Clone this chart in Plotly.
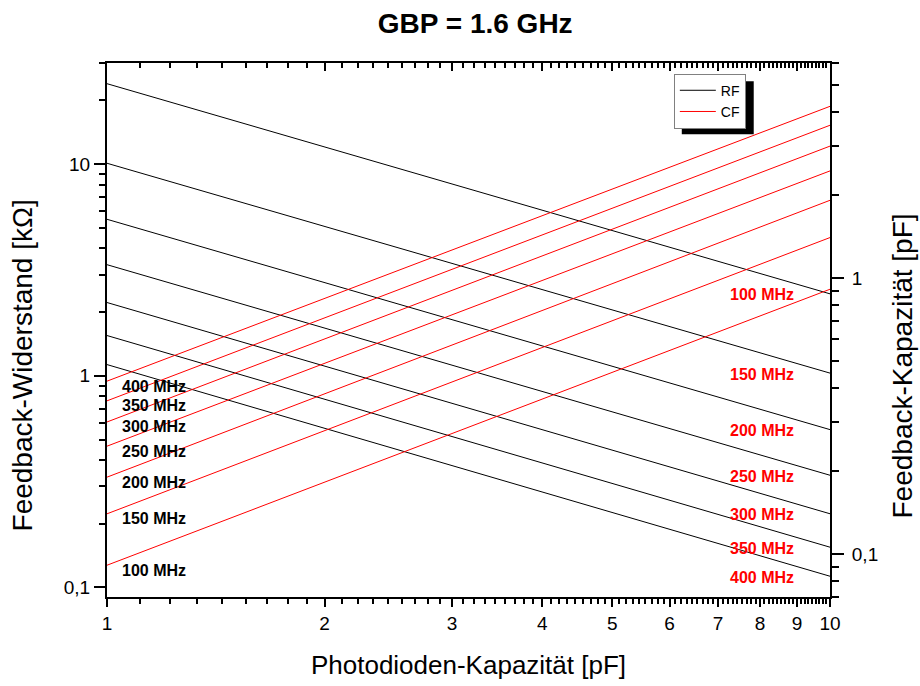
import math
import plotly.graph_objects as go

# ---------------- data ----------------
freq_labels = ["100 MHz", "150 MHz", "200 MHz", "250 MHz", "300 MHz", "350 MHz", "400 MHz"]
cd_pf = [1, 10]                                   # photodiode capacitance endpoints [pF]
rf_at_cd1 = [24.0, 10.1, 5.49, 3.35, 2.22, 1.55, 1.13]       # RF [kOhm] at 1 pF
rf_at_cd10 = [2.44, 1.03, 0.557, 0.339, 0.223, 0.155, 0.113]  # RF [kOhm] at 10 pF
cf_at_cd1 = [0.0912, 0.140, 0.190, 0.246, 0.301, 0.359, 0.423]  # CF [pF] at 1 pF
cf_at_cd10 = [0.910, 1.40, 1.91, 2.44, 3.00, 3.57, 4.18]        # CF [pF] at 10 pF

x_tickvals = [1, 2, 3, 4, 5, 6, 7, 8, 9, 10]
x_ticktext = ["1", "2", "3", "4", "5", "6", "7", "8", "9", "10"]
yl_tickvals = [0.1, 1, 10]
yl_ticktext = ["0,1", "1", "10"]
yr_tickvals = [0.1, 1]
yr_ticktext = ["0,1", "1"]

# ---------------- styling ----------------
FONT = "Liberation Sans, Arial, sans-serif"
x_minor = [n + k / 9 for n in range(1, 10) for k in range(1, 9)]
yl_minor = [m * d for d in (0.01, 0.1, 1, 10) for m in range(2, 10)]
yr_minor = [m * d for d in (0.01, 0.1, 1) for m in range(2, 10)]

fig = go.Figure()

for i, lab in enumerate(freq_labels):
    fig.add_trace(go.Scatter(
        x=cd_pf, y=[rf_at_cd1[i], rf_at_cd10[i]], mode="lines",
        line=dict(color="black", width=1), name="RF", legendgroup="RF",
        showlegend=(i == 0), xaxis="x", yaxis="y"))
for i, lab in enumerate(freq_labels):
    fig.add_trace(go.Scatter(
        x=cd_pf, y=[cf_at_cd1[i], cf_at_cd10[i]], mode="lines",
        line=dict(color="red", width=1), name="CF", legendgroup="CF",
        showlegend=(i == 0), xaxis="x", yaxis="y2"))
# carrier for the top mirror axis
fig.add_trace(go.Scatter(x=cd_pf, y=[1, 1], mode="lines", opacity=0,
                         hoverinfo="skip", showlegend=False, xaxis="x2", yaxis="y"))

annotations = []
# left labels (black) just below the CF lines at 1 pF
for i, lab in enumerate(freq_labels):
    annotations.append(dict(
        x=0.018, y=math.log10(cf_at_cd1[i]), xref="x", yref="y2",
        text="<b>%s</b>" % lab, showarrow=False, xanchor="left", yanchor="middle",
        yshift=-5, font=dict(family=FONT, size=16, color="black")))
# right labels (red) on the RF lines at 10 pF
for i, lab in enumerate(freq_labels):
    annotations.append(dict(
        x=0.9526, y=math.log10(rf_at_cd10[i]), xref="x", yref="y",
        text="<b>%s</b>" % lab, showarrow=False, xanchor="right", yanchor="middle",
        yshift=-1, font=dict(family=FONT, size=16, color="red")))
# y axis titles
annotations.append(dict(x=-0.1166, y=0.433, xref="paper", yref="paper",
                        text="Feedback-Widerstand [kΩ]", textangle=-90, showarrow=False,
                        xanchor="center", yanchor="middle",
                        font=dict(family=FONT, size=28, color="black")))
annotations.append(dict(x=1.1006, y=0.433, xref="paper", yref="paper",
                        text="Feedback-Kapazität [pF]", textangle=-90, showarrow=False,
                        xanchor="center", yanchor="middle",
                        font=dict(family=FONT, size=28, color="black")))

axis_common = dict(showgrid=False, zeroline=False, showline=True, linecolor="black",
                   linewidth=2, tickcolor="black", tickwidth=2)

fig.update_layout(
    width=920, height=686,
    margin=dict(l=107, r=90, t=63, b=89),
    paper_bgcolor="white", plot_bgcolor="white",
    separators=",.",
    font=dict(family=FONT, color="black"),
    title=dict(text="<b>GBP = 1.6 GHz</b>", x=0.5093, xanchor="center", xref="paper",
               y=1 - 22.7 / 686, yanchor="middle", yref="container",
               font=dict(family=FONT, size=28, color="black")),
    xaxis=dict(type="log", range=[0, 1], tickmode="array", tickvals=x_tickvals,
               ticktext=x_ticktext, ticks="outside", ticklen=8,
               tickfont=dict(size=19, family=FONT),
               minor=dict(tickvals=x_minor, ticks="outside", ticklen=5, tickwidth=1.5,
                          tickcolor="black"),
               title=dict(text="Photodioden-Kapazität [pF]", standoff=23,
                          font=dict(size=26, family=FONT)),
               anchor="y", **axis_common),
    xaxis2=dict(type="log", range=[0, 1], overlaying="x", side="top", anchor="y",
                tickmode="array", tickvals=x_tickvals, ticks="inside", ticklen=8,
                showticklabels=False,
                minor=dict(tickvals=x_minor, ticks="inside", ticklen=5, tickwidth=1.5,
                           tickcolor="black"),
                **axis_common),
    yaxis=dict(type="log", range=[-1.045, 1.478], tickmode="array", tickvals=yl_tickvals,
               ticktext=yl_ticktext, ticks="outside", ticklen=11,
               tickfont=dict(size=19, family=FONT),
               minor=dict(tickvals=yl_minor, ticks="outside", ticklen=6, tickwidth=1.5,
                          tickcolor="black"),
               anchor="x", **axis_common),
    yaxis2=dict(type="log", range=[-1.155, 0.778], overlaying="y", side="right", anchor="x",
                tickmode="array", tickvals=yr_tickvals, ticktext=yr_ticktext,
                ticks="outside", ticklen=12, tickfont=dict(size=19, family=FONT),
                ticklabelstandoff=4,
                minor=dict(tickvals=yr_minor, ticks="outside", ticklen=7, tickwidth=1.5,
                           tickcolor="black"),
                **axis_common),
    legend=dict(x=0.784, y=0.980, xanchor="left", yanchor="top", bgcolor="white",
                bordercolor="#808080", borderwidth=1,
                font=dict(family=FONT, size=14, color="black"),
                itemwidth=36, tracegroupgap=0),
    shapes=[dict(type="rect", xref="paper", yref="paper", x0=0.795, x1=0.8945,
                 y0=0.8665, y1=0.9657, fillcolor="black", line=dict(width=0),
                 layer="above")],
    annotations=annotations,
    showlegend=True,
)

fig.write_html("out.html")
